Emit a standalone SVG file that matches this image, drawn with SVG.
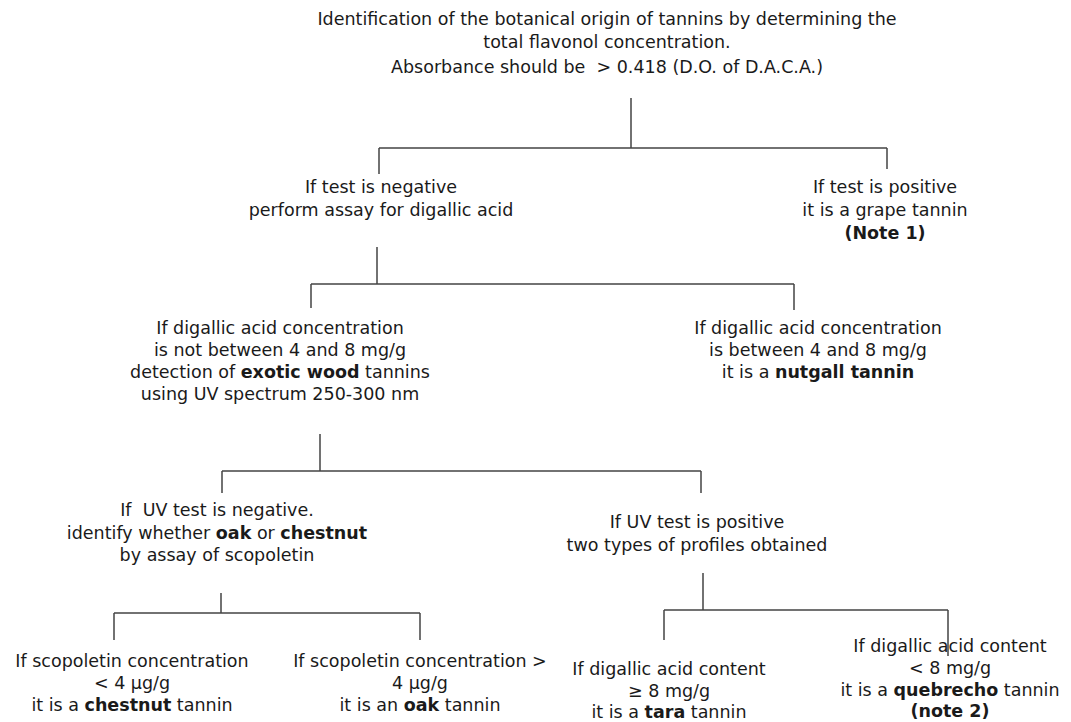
<svg xmlns="http://www.w3.org/2000/svg" width="1071" height="722" viewBox="0 0 1071 722">
<style>
text{font-family:"DejaVu Sans","Verdana","Liberation Sans",sans-serif;font-size:17.5px;fill:#1a1a1a;text-anchor:middle;white-space:pre}
.b{font-weight:bold}
.c{stroke:#444;stroke-width:1.5;fill:none}
</style>
<rect width="1071" height="722" fill="#fff"/>
<g id="connectors">
<path class="c" d="M631 98V148M379 148H887M379 148V174M887 148V169"/>
<path class="c" d="M377 247V284M311 284H794M311 284V308M794 284V310"/>
<path class="c" d="M320 434V471M222 471H701M222 471V493M701 471V493"/>
<path class="c" d="M221 593V613M114 613H420M114 613V640M420 613V640"/>
<path class="c" d="M703 573V610M664 610H948M664 610V640M948 610V656"/>
</g>
<g id="root">
<text x="607" y="25">Identification of the botanical origin of tannins by determining the</text>
<text x="607" y="48">total flavonol concentration.</text>
<text x="607" y="73" xml:space="preserve">Absorbance should be  &gt; 0.418 (D.O. of D.A.C.A.)</text>
</g>
<g id="neg1">
<text x="381" y="193">If test is negative</text>
<text x="381" y="216">perform assay for digallic acid</text>
</g>
<g id="pos1">
<text x="885" y="193">If test is positive</text>
<text x="885" y="216">it is a grape tannin</text>
<text x="885" y="239" class="b">(Note 1)</text>
</g>
<g id="neg2">
<text x="280" y="334">If digallic acid concentration</text>
<text x="280" y="356">is not between 4 and 8 mg/g</text>
<text x="280" y="378">detection of <tspan class="b">exotic wood</tspan> tannins</text>
<text x="280" y="400">using UV spectrum 250-300 nm</text>
</g>
<g id="pos2">
<text x="818" y="334">If digallic acid concentration</text>
<text x="818" y="356">is between 4 and 8 mg/g</text>
<text x="818" y="378">it is a <tspan class="b">nutgall tannin</tspan></text>
</g>
<g id="neg3">
<text x="217" y="516" xml:space="preserve">If  UV test is negative.</text>
<text x="217" y="539">identify whether <tspan class="b">oak</tspan> or <tspan class="b">chestnut</tspan></text>
<text x="217" y="561">by assay of scopoletin</text>
</g>
<g id="pos3">
<text x="697" y="528">If UV test is positive</text>
<text x="697" y="551">two types of profiles obtained</text>
</g>
<g id="chestnut">
<text x="132" y="667">If scopoletin concentration</text>
<text x="132" y="689">&lt; 4 µg/g</text>
<text x="132" y="711">it is a <tspan class="b">chestnut</tspan> tannin</text>
</g>
<g id="oak">
<text x="420" y="667">If scopoletin concentration &gt;</text>
<text x="420" y="689">4 µg/g</text>
<text x="420" y="711">it is an <tspan class="b">oak</tspan> tannin</text>
</g>
<g id="tara">
<text x="669" y="675">If digallic acid content</text>
<text x="669" y="697">≥ 8 mg/g</text>
<text x="669" y="718">it is a <tspan class="b">tara</tspan> tannin</text>
</g>
<g id="quebrecho">
<text x="950" y="652">If digallic acid content</text>
<text x="950" y="674">&lt; 8 mg/g</text>
<text x="950" y="696">it is a <tspan class="b">quebrecho</tspan> tannin</text>
<text x="950" y="717" class="b">(note 2)</text>
</g>
</svg>
